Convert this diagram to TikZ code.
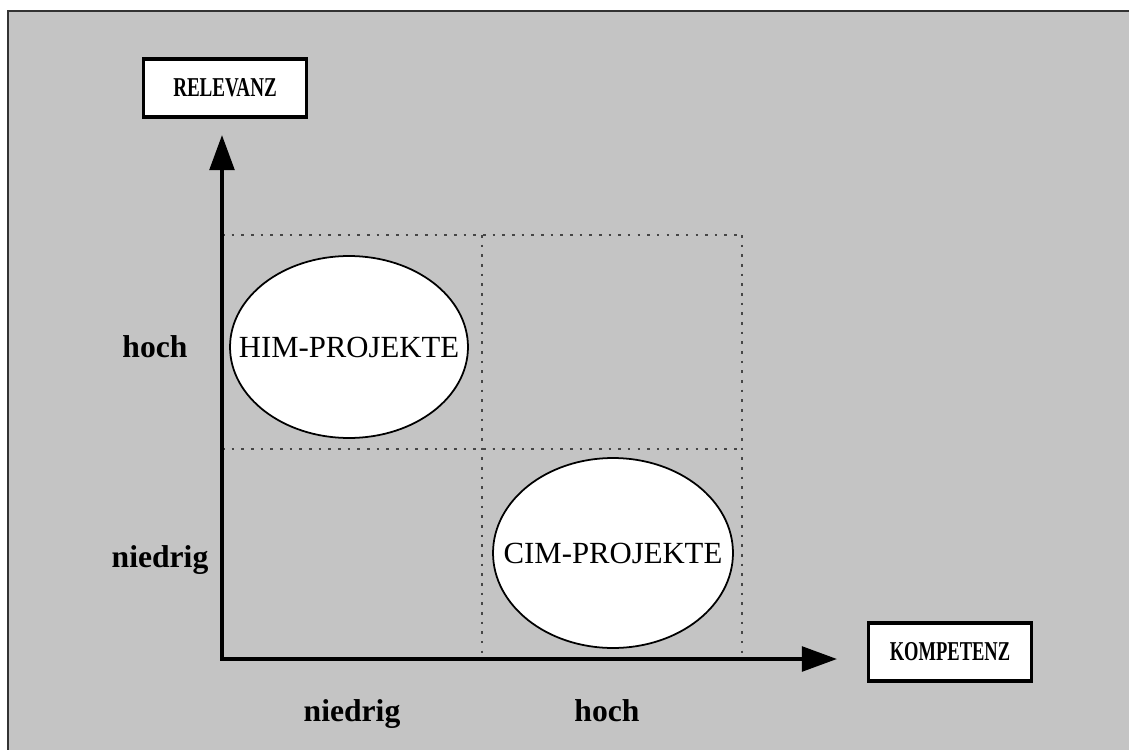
\documentclass[tikz,border=0pt]{standalone}
\usepackage{graphicx}
\usepackage{fontspec}
\setmainfont{Liberation Serif}
\usetikzlibrary{shapes.geometric,arrows.meta}
\definecolor{scanbg}{RGB}{196,196,196}
\definecolor{dotgray}{RGB}{70,70,70}

\begin{document}
\begin{tikzpicture}[x=0.02cm,y=-0.02cm,
  axis/.style={line width=2.2pt,line join=miter,
    {Triangle[length=20pt,width=14pt]}-{Triangle[length=20pt,width=14pt]}},
  gridline/.style={line width=1.2pt,dotgray,dash pattern=on 1.5pt off 4pt},
  namebox/.style={draw,line width=1.8pt,fill=white,inner sep=0pt,
    minimum width=3.25cm,minimum height=1.16cm},
  projekt/.style={ellipse,draw,line width=1pt,fill=white,inner sep=0pt},
  projtext/.style={font=\fontsize{17.5}{19}\selectfont,inner sep=0pt},
  scalelbl/.style={anchor=base,font=\fontsize{18}{20}\selectfont\bfseries}]
  \useasboundingbox (0,0) rectangle (1129,750);
  % scanned page
  \fill[white] (0,0) rectangle (1129,750);
  \fill[scanbg] (8,11) rectangle (1129,750);
  \draw[line width=1.5pt,black!80] (8,750) -- (8,11) -- (1129,11);

  % quadrants
  \draw[gridline] (222,235) -- (742,235);
  \draw[gridline] (222,449) -- (742,449);
  \draw[gridline] (482,235) -- (482,659);
  \draw[gridline] (742,235) -- (742,659);

  % axes
  \coordinate (origin) at (222,659);
  \coordinate (ytip) at (222,135);
  \coordinate (xtip) at (837,659);
  \draw[axis] (ytip) -- (origin) -- (xtip);

  \node[namebox] (relevanz) at (225,88)
    {\scalebox{0.7}[1]{\fontsize{15.5}{17}\selectfont\bfseries RELEVANZ}};
  \node[namebox] (kompetenz) at (950,652)
    {\scalebox{0.68}[1]{\fontsize{15.5}{17}\selectfont\bfseries KOMPETENZ}};

  % projects
  \node[projekt,minimum width=4.76cm,minimum height=3.64cm] (him) at (349,347) {};
  \node[projtext] (himtext) at (him) {HIM-PROJEKTE};
  \node[projekt,minimum width=4.8cm,minimum height=3.8cm] (cim) at (613,553) {};
  \node[projtext] (cimtext) at (cim) {CIM-PROJEKTE};

  % scale labels
  \node[scalelbl] (yhoch) at (155,357) {hoch};
  \node[scalelbl] (yniedrig) at (160,567) {niedrig};
  \node[scalelbl] (xniedrig) at (352,721) {niedrig};
  \node[scalelbl] (xhoch) at (607,721) {hoch};
\end{tikzpicture}
\end{document}
